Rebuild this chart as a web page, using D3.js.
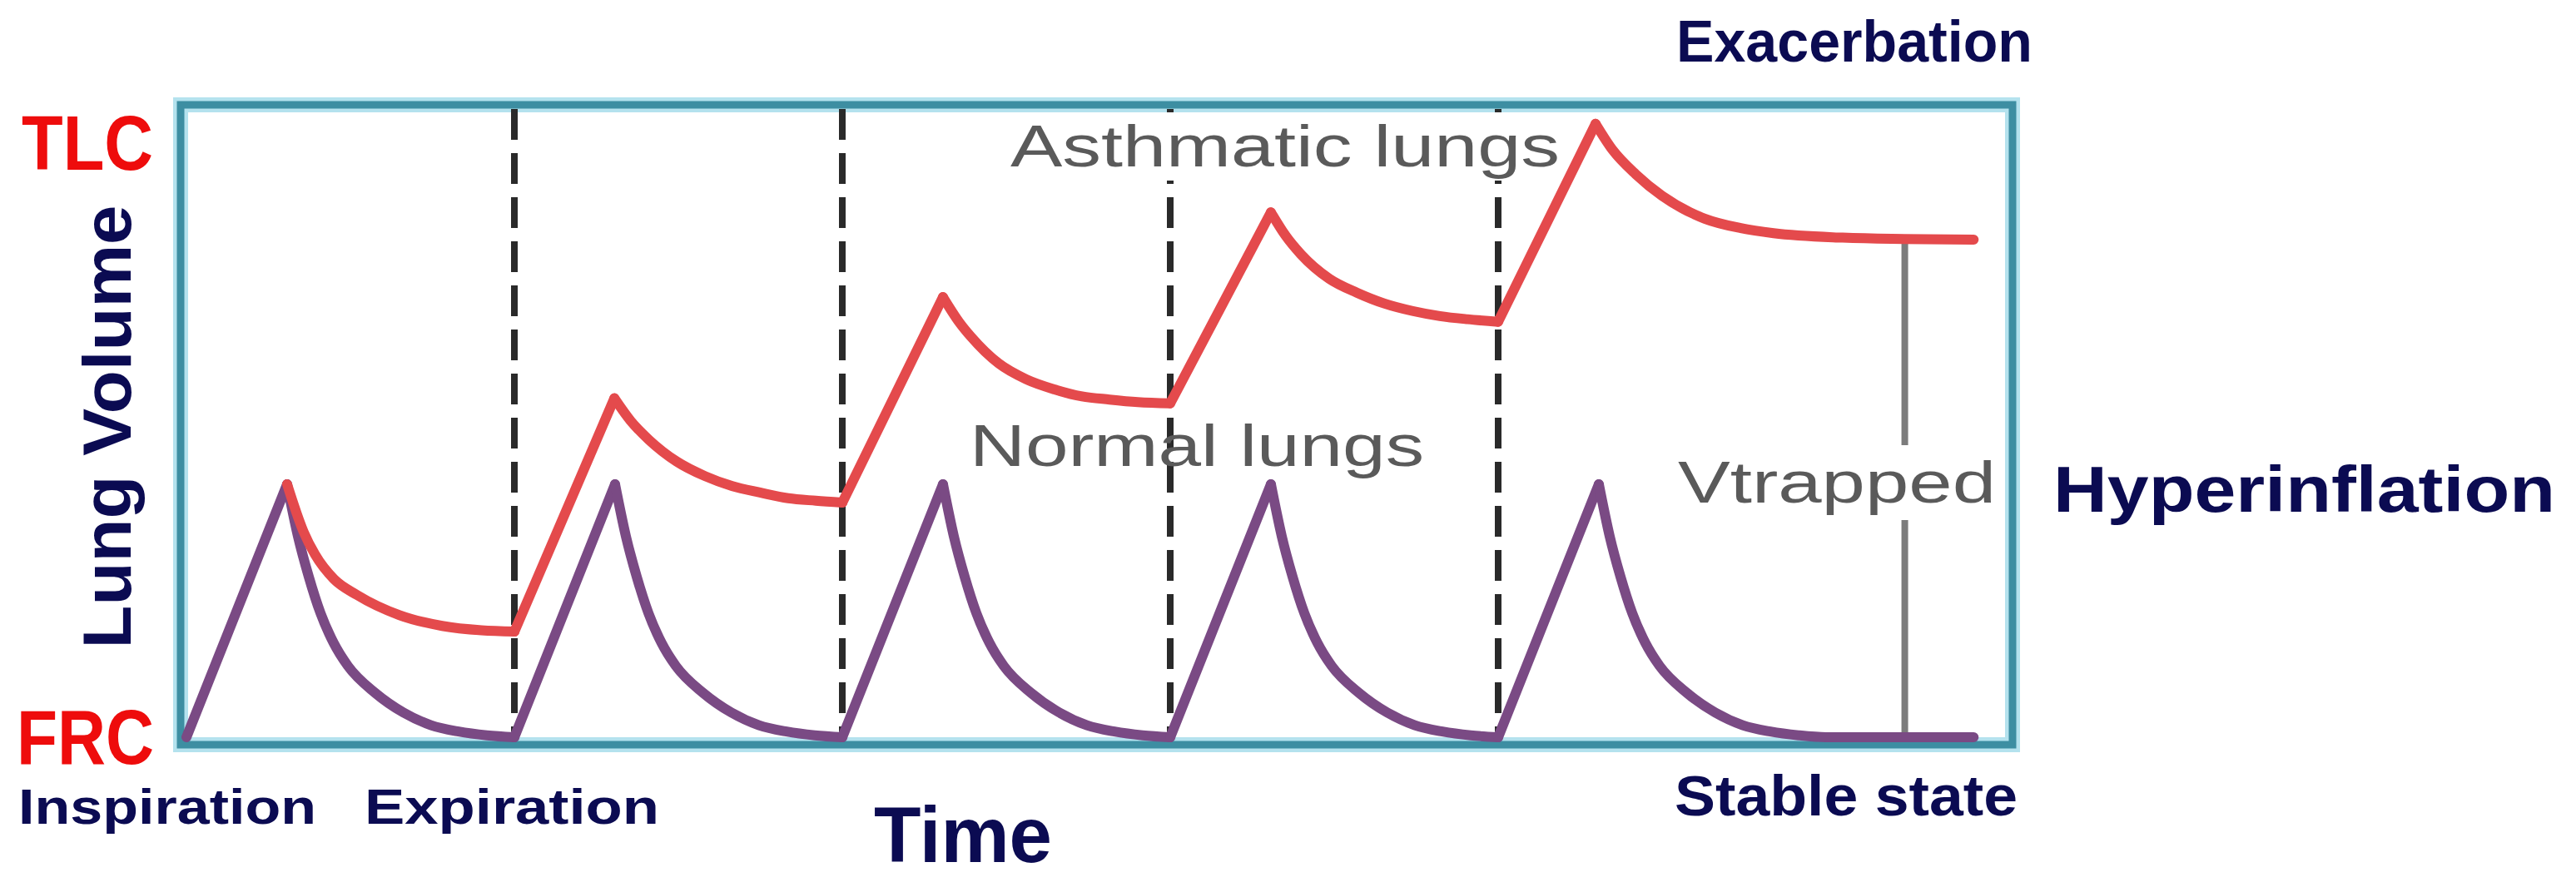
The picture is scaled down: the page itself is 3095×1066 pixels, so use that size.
<!DOCTYPE html>
<html>
<head>
<meta charset="utf-8">
<script src="https://cdn.jsdelivr.net/npm/d3@7"></script>
<style>
html,body{margin:0;padding:0;background:#fff;}
svg{display:block;}
</style>
</head>
<body>
<svg id="chart" width="3095" height="1066"></svg>
<script>
// ---- data (time in breath cycles, volume in % of FRC->TLC range) ----
const breathStarts = [0, 1, 2, 3, 4];
const dividers = [1, 2, 3, 4];
// Normal lungs: one breath, offsets from breath start
const normalBreathT = [0, 0.307, 0.340, 0.373, 0.409, 0.449, 0.492, 0.576, 0.662, 0.746, 0.830, 0.916, 1.0];
const normalBreathV = [0, 40, 31.8, 25.4, 19.6, 14.9, 11.3, 7.0, 3.9, 1.9, 0.9, 0.3, 0];
const normalTailEnd = 5.45;
// Asthmatic lungs: rises (straight) and decays (curved)
const asthmaRises = [
  [[1.0, 16.7], [1.305, 53.6]],
  [[2.0, 37.1], [2.307, 69.6]],
  [[3.0, 52.8], [3.307, 83.0]],
  [[4.0, 65.7], [4.297, 97.0]]
];
const asthmaDecays = [
  [[0.307, 40], [0.357, 32.5], [0.392, 28.9], [0.45, 25.0], [0.52, 22.5], [0.65, 19.3], [0.78, 17.6], [0.9, 16.9], [1.0, 16.7]],
  [[1.305, 53.6], [1.355, 50.0], [1.411, 47.0], [1.495, 43.6], [1.581, 41.3], [1.665, 39.7], [1.749, 38.7], [1.835, 37.8], [1.919, 37.4], [2.0, 37.1]],
  [[2.307, 69.6], [2.357, 65.6], [2.393, 63.3], [2.477, 59.1], [2.561, 56.6], [2.647, 55.0], [2.731, 53.9], [2.815, 53.4], [2.901, 53.0], [3.0, 52.8]],
  [[3.307, 83.0], [3.352, 79.3], [3.398, 76.4], [3.485, 72.5], [3.569, 70.3], [3.652, 68.6], [3.739, 67.4], [3.822, 66.6], [3.906, 66.1], [4.0, 65.7]],
  [[4.297, 97.0], [4.35, 92.8], [4.42, 89.0], [4.5, 85.6], [4.63, 82.0], [4.74, 80.5], [4.84, 79.7], [5.05, 79.0], [5.2, 78.8], [5.45, 78.7]]
];
const vtrappedT = 5.24;
const vtrappedTop = 78.7;

// ---- layout ----
const svg = d3.select("#chart");
const frame = {left: 217, top: 126, right: 2418, bottom: 895};
const x = d3.scaleLinear().domain([0, 5]).range([224, 2194]);
const y = d3.scaleLinear().domain([0, 100]).range([886, 126]);

const navy = "#0b0b52";
const redLbl = "#ee0c0c";
const purple = "#7a4a84";
const red = "#e44a4c";
const gray = "#5a5a5a";

// frame (halo + line)
svg.append("rect").attr("x", frame.left).attr("y", frame.top)
  .attr("width", frame.right - frame.left).attr("height", frame.bottom - frame.top)
  .attr("fill", "#fff").attr("stroke", "#b4e2ee").attr("stroke-width", 18);
svg.append("rect").attr("x", frame.left).attr("y", frame.top)
  .attr("width", frame.right - frame.left).attr("height", frame.bottom - frame.top)
  .attr("fill", "none").attr("stroke", "#3d8ea2").attr("stroke-width", 9);

// dashed dividers
svg.selectAll("line.div").data(dividers).enter().append("line")
  .attr("class", "div")
  .attr("x1", d => x(d)).attr("x2", d => x(d))
  .attr("y1", frame.top + 5).attr("y2", frame.bottom - 5)
  .attr("stroke", "#2a2a2a").attr("stroke-width", 8)
  .attr("stroke-dasharray", "37,16");

// text helper
function label(txt, opts) {
  const t = svg.append("text").text(txt)
    .attr("font-family", opts.family || "'Liberation Sans', Arial, sans-serif")
    .attr("font-weight", opts.weight || "bold")
    .attr("font-size", opts.size)
    .attr("fill", opts.fill)
    .attr("textLength", opts.len)
    .attr("lengthAdjust", "spacingAndGlyphs");
  if (opts.anchor) t.attr("text-anchor", opts.anchor);
  if (opts.transform) t.attr("transform", opts.transform);
  else t.attr("x", opts.x).attr("y", opts.y);
  return t;
}
function bgFor(t, pad) {
  const b = t.node().getBBox();
  svg.insert("rect", () => t.node())
    .attr("x", b.x - pad).attr("y", b.y - pad)
    .attr("width", b.width + 2 * pad).attr("height", b.height + 2 * pad)
    .attr("fill", "#fff");
}

// in-plot gray labels with white backgrounds
const tAsth = label("Asthmatic lungs", {x: 1214, y: 200, size: 70, fill: gray, weight: "normal", len: 660});
bgFor(tAsth, 2);

// Vtrapped line
svg.append("line")
  .attr("x1", x(vtrappedT)).attr("x2", x(vtrappedT))
  .attr("y1", y(vtrappedTop)).attr("y2", y(0))
  .attr("stroke", "#7c7c7c").attr("stroke-width", 8);
const tVt = label("Vtrapped", {x: 2016, y: 604, size: 70, fill: gray, weight: "normal", len: 382});
bgFor(tVt, 6);

// curves
const lineCurve = d3.line().x(d => x(d[0])).y(d => y(d[1])).curve(d3.curveMonotoneX);
const lineStraight = d3.line().x(d => x(d[0])).y(d => y(d[1]));

const g = svg.append("g").attr("fill", "none").attr("stroke-linecap", "round").attr("stroke-linejoin", "round");
const lw = 12;

// normal lungs
breathStarts.forEach((s, i) => {
  const pts = normalBreathT.map((t, k) => [s + t, normalBreathV[k]]);
  if (i === breathStarts.length - 1) pts.push([normalTailEnd, 0]);
  g.append("path").attr("d", lineStraight(pts.slice(0, 2)))
    .attr("stroke", purple).attr("stroke-width", lw);
  g.append("path").attr("d", lineCurve(pts.slice(1)))
    .attr("stroke", purple).attr("stroke-width", lw);
});

// asthmatic lungs
asthmaDecays.forEach(seg => {
  g.append("path").attr("d", lineCurve(seg)).attr("stroke", red).attr("stroke-width", lw);
});
asthmaRises.forEach(seg => {
  g.append("path").attr("d", lineStraight(seg)).attr("stroke", red).attr("stroke-width", lw);
});

label("Normal lungs", {x: 1165, y: 560, size: 70, fill: gray, weight: "normal", len: 546});

// outer labels
label("TLC", {x: 26, y: 204, size: 92, fill: redLbl, len: 158});
label("FRC", {x: 20, y: 918, size: 92, fill: redLbl, len: 165});
label("Lung Volume", {transform: "translate(157,513) rotate(-90)", anchor: "middle", size: 82, fill: navy, len: 533});
label("Inspiration", {x: 22, y: 990, size: 60, fill: navy, len: 358});
label("Expiration", {x: 438, y: 990, size: 60, fill: navy, len: 354});
label("Time", {x: 1050, y: 1036, size: 94, fill: navy, len: 214});
label("Exacerbation", {x: 2014, y: 74, size: 70, fill: navy, len: 428});
label("Stable state", {x: 2012, y: 980, size: 68, fill: navy, len: 412});
label("Hyperinflation", {x: 2467, y: 615, size: 77, fill: navy, len: 603});
</script>
</body>
</html>
